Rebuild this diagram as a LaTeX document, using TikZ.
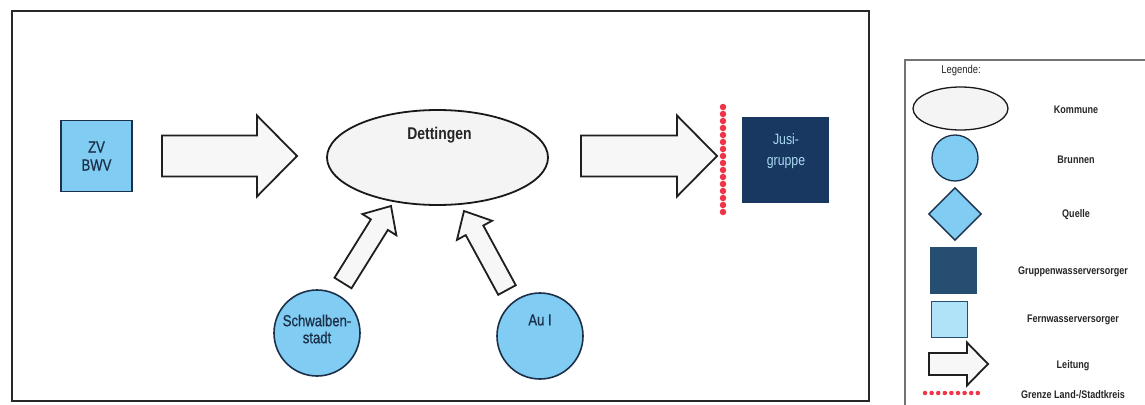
\documentclass[tikz,border=0pt]{standalone}
\usepackage{fontspec}
\setmainfont{Liberation Sans}[FakeStretch=0.82]
\newfontfamily\heavyfont{Liberation Sans}[FakeStretch=0.82, FakeBold=0.8]
\usetikzlibrary{calc,shapes.geometric}

\definecolor{wellblue}{RGB}{128,204,242}
\definecolor{navyline}{RGB}{28,48,74}
\definecolor{ellfill}{RGB}{244,244,244}
\definecolor{pipefill}{RGB}{247,247,247}
\definecolor{jusiblue}{RGB}{24,56,98}
\definecolor{groupblue}{RGB}{38,78,112}
\definecolor{fernfill}{RGB}{176,226,248}
\definecolor{jusitext}{RGB}{170,216,240}
\definecolor{borderred}{RGB}{240,52,72}
\definecolor{frameline}{RGB}{40,40,40}
\definecolor{legline}{RGB}{115,115,115}

% block-shaped pipe from #1 to #2: shaft half width, head half width, head length
\newcommand\leitung[5]{%
  \path ($(#2)!#5!(#1)$) coordinate (lt-h);
  \draw[pipe] ($(#1)!#3!90:(#2)$) -- ($(lt-h)!#3!90:(#2)$)
    -- ($(lt-h)!#4!90:(#2)$) -- (#2) -- ($(lt-h)!#4!-90:(#2)$)
    -- ($(lt-h)!#3!-90:(#2)$) -- ($(#1)!#3!-90:(#2)$) -- cycle;}

\tikzset{
  pipe/.style={draw=black!88, fill=pipefill, line width=1.8pt, line join=miter},
  kommune/.style={ellipse, draw=black!90, fill=ellfill, line width=1.8pt, inner sep=0pt},
  brunnen/.style={circle, draw=navyline, fill=wellblue, line width=1.6pt, inner sep=0pt},
  quelle/.style={diamond, draw=navyline, fill=wellblue, line width=1.4pt, inner sep=0pt, shape aspect=1},
  fernbox/.style={rectangle, draw=navyline, fill=wellblue, line width=1.6pt, inner sep=0pt,
    text=navyline, align=center, font=\heavyfont\fontsize{16}{19}\selectfont},
  gruppebox/.style={rectangle, fill=jusiblue, draw=jusiblue, inner sep=0pt},
  shapetext/.style={text=navyline, align=center, font=\heavyfont\fontsize{16}{17}\selectfont},
  grenze/.style={draw=borderred, line width=6.5pt, line cap=round, dash pattern=on 0pt off 7pt},
  leglabel/.style={font=\bfseries\fontsize{11}{12}\selectfont, text=black!85},
  frame/.style={draw=frameline, line width=1.8pt},
}

\begin{document}
\begin{tikzpicture}[x=1pt, y=-1pt]
\useasboundingbox (0,0) rectangle (1145,404);
\fill[white] (0,0) rectangle (1145,404);

% main drawing area
\draw[frame] (12,11) rectangle (869,401);

% suppliers and community
\node[fernbox, minimum size=71] (zv) at (96.5,156) {ZV\\[-1pt]BWV};
\node[kommune, minimum width=221, minimum height=95] (dett) at (437.5,157.5) {};
\node[font=\bfseries\fontsize{17}{20}\selectfont, text=black!85] (dett-label)
  at ($(dett.center)+(2,-22)$) {Dettingen};
\node[brunnen, minimum size=86] (schw) at (317,333) {};
\node[shapetext] (schw-label) at ($(schw.center)+(0,-4)$) {Schwalben-\\stadt};
\node[brunnen, minimum size=86] (au) at (540,336) {};
\node[shapetext] (au-label) at ($(au.center)+(0,-16)$) {Au I};
\node[gruppebox, minimum width=86, minimum height=85] (jusi) at (785,159.5) {};
\node[text=jusitext, align=center, font=\fontsize{15}{21}\selectfont] (jusi-label)
  at ($(jusi.center)+(1,-8)$) {Jusi-\\gruppe};

% pipes
\coordinate (p1s) at (162,156);   \coordinate (p1e) at (297,156);
\coordinate (p2s) at (343,283);   \coordinate (p2e) at (391,206);
\coordinate (p3s) at (507,290);   \coordinate (p3e) at (464,211);
\coordinate (p4s) at (581,156);   \coordinate (p4e) at (717,156);
\leitung{p1s}{p1e}{20.5pt}{40.5pt}{40pt}
\leitung{p2s}{p2e}{10pt}{20pt}{22pt}
\leitung{p3s}{p3e}{10pt}{20pt}{22pt}
\leitung{p4s}{p4e}{20.5pt}{40.5pt}{40pt}

% district border
\coordinate (g1) at (723,107); \coordinate (g2) at (723,213);
\draw[grenze] (g1) -- (g2);

% legend
\draw[draw=legline, line width=1.5pt] (905,420) -- (905,60) -- (1160,60);
\node[font=\fontsize{11.5}{12}\selectfont, text=black!85] (leg-title) at (961,71) {Legende:};
\node[kommune, line width=1.3pt, minimum width=95, minimum height=43] (leg-komm) at (960.5,108.5) {};
\node[leglabel] (leg-komm-t) at (1076,110) {Kommune};
\node[brunnen, line width=1.3pt, minimum size=46] (leg-brun) at (955,158) {};
\node[leglabel] (leg-brun-t) at (1076,160) {Brunnen};
\node[quelle, minimum size=53] (leg-quel) at (955,214) {};
\node[leglabel] (leg-quel-t) at (1076,215) {Quelle};
\node[rectangle, fill=groupblue, inner sep=0pt, minimum size=47] (leg-grup) at (953.5,270.5) {};
\node[leglabel] (leg-grup-t) at (1073,272) {Gruppenwasserversorger};
\node[rectangle, draw=groupblue, fill=fernfill, line width=1.4pt, inner sep=0pt, minimum size=36] (leg-fern) at (949.5,319.5) {};
\node[leglabel] (leg-fern-t) at (1073,320) {Fernwasserversorger};
\coordinate (lps) at (929,364); \coordinate (lpe) at (988,364);
\leitung{lps}{lpe}{11pt}{21.5pt}{21pt}
\node[leglabel] (leg-leit-t) at (1073,366) {Leitung};
\coordinate (lg1) at (925,393); \coordinate (lg2) at (978,393);
\draw[grenze, line width=4.5pt, dash pattern=on 0pt off 6.6pt] (lg1) -- (lg2);
\node[leglabel] (leg-gren-t) at (1073,395) {Grenze Land-/Stadtkreis};
\end{tikzpicture}
\end{document}
